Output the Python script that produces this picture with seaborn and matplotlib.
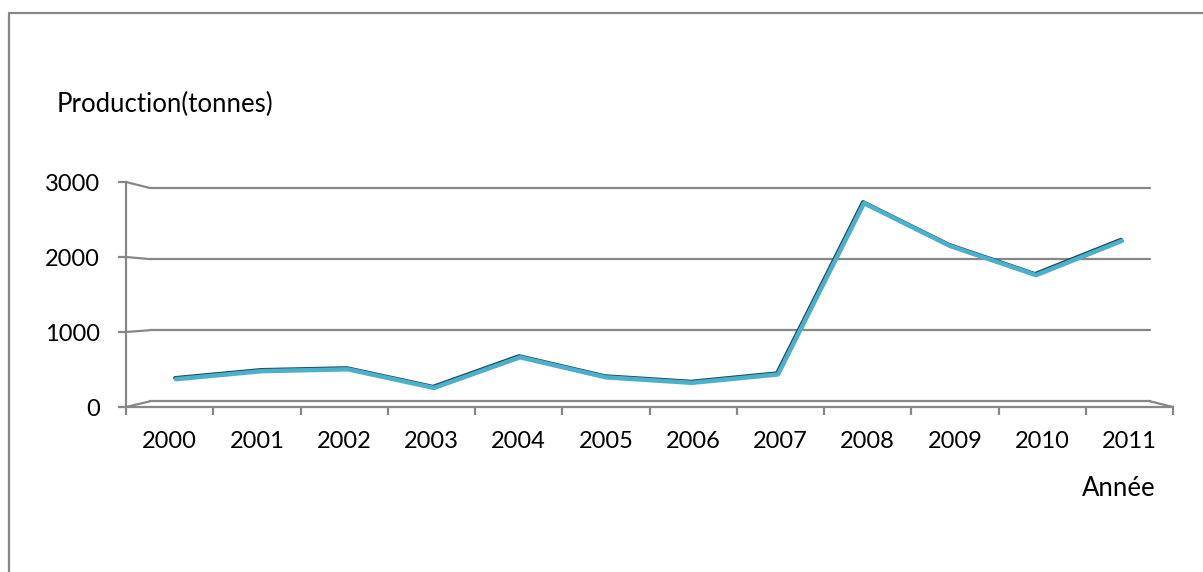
"""Production (tonnes) par année - recréation d'un graphique ligne 3D Excel"""
import matplotlib
matplotlib.use("Agg")
import numpy as np
import pandas as pd
import seaborn as sns
import matplotlib.pyplot as plt
import matplotlib.transforms as mtransforms
from matplotlib.lines import Line2D
from matplotlib.patches import ConnectionPatch

# données
years = ['2000', '2001', '2002', '2003', '2004', '2005',
         '2006', '2007', '2008', '2009', '2010', '2011']
production = [340, 450, 475, 220, 640, 365, 290, 405, 2750, 2165, 1765, 2235]
y_ticks = [0, 1000, 2000, 3000]

W, H = 1203, 572
GRAY = '#878787'
LIGHT = '#4bb0cb'
DARK = '#1f4a56'

sns.set_theme(style='white')
plt.rcParams['font.family'] = ['Lato', 'DejaVu Sans']
plt.rcParams['text.color'] = 'black'


def box(x0, y0, x1, y1):
    # pixels (origine en haut à gauche) -> fraction de figure
    return [x0 / W, 1 - y1 / H, (x1 - x0) / W, (y1 - y0) / H]


fig = plt.figure(figsize=(W / 100, H / 100), dpi=100)

# plan du fond avec les lignes de quadrillage
ax_back = fig.add_axes(box(150, 188, 1150, 401.3))
ax_back.set_ylim(0, 3000)
ax_back.set_xlim(0, 1)
for v in y_ticks:
    ax_back.axhline(v, color=GRAY, lw=1.6, clip_on=False)
ax_back.set_axis_off()

# courbe (au milieu de la profondeur), ombre foncée + ruban clair
ax_line = fig.add_axes(box(133, 185, 1165, 404))
ax_line.patch.set_alpha(0)
df = pd.DataFrame({'idx': np.arange(len(years)), 'prod': production})
sns.lineplot(data=df, x='idx', y='prod', ax=ax_line, color=DARK, lw=2.8)
ax_line.lines[-1].set_transform(
    mtransforms.offset_copy(ax_line.transData, fig=fig, x=-1, y=1.2, units='dots'))
sns.lineplot(data=df, x='idx', y='prod', ax=ax_line, color=LIGHT, lw=3.2)
ax_line.set_xlim(-0.5, len(years) - 0.5)
ax_line.set_ylim(0, 3000)
ax_line.set_axis_off()

# axes de face
ax = fig.add_axes(box(126, 182, 1173, 407))
ax.patch.set_alpha(0)
ax.set_xlim(-0.5, len(years) - 0.5)
ax.set_ylim(0, 3000)
for s in ['top', 'right']:
    ax.spines[s].set_visible(False)
for s in ['left', 'bottom']:
    ax.spines[s].set_color(GRAY)
    ax.spines[s].set_linewidth(1.6)
ax.set_yticks(y_ticks)
ax.set_yticklabels([str(v) for v in y_ticks])
ax.set_xticks(np.arange(-0.5, len(years)), labels=[])
ax.set_xticks(np.arange(len(years)), labels=years, minor=True)
ax.tick_params(axis='y', direction='out', length=6, width=1.6, color=GRAY,
               pad=13, labelsize=17, labelcolor='black', left=True)
ax.tick_params(axis='x', which='major', direction='out', length=6, width=1.6,
               color=GRAY, bottom=True)
ax.tick_params(axis='x', which='minor', length=0, pad=17, labelsize=17,
               labelcolor='black')
ax.grid(False)

# arêtes de perspective entre la face et le fond
for v in y_ticks:
    fig.add_artist(ConnectionPatch(xyA=(-0.5, v), coordsA=ax.transData,
                                   xyB=(0, v), coordsB=ax_back.transData,
                                   arrowstyle='-', color=GRAY, lw=1.6))
fig.add_artist(ConnectionPatch(xyA=(len(years) - 0.5, 0), coordsA=ax.transData,
                               xyB=(1, 0), coordsB=ax_back.transData,
                               arrowstyle='-', color=GRAY, lw=1.6))

# titres des axes
fig.text(57 / W, 1 - 104 / H, 'Production(tonnes)', fontsize=18.5,
         ha='left', va='center', color='black')
fig.text(1119 / W, 1 - 488 / H, 'Année', fontsize=18.5, ha='center',
         va='center', color='black')

# cadre de la zone de graphique (gauche et haut)
fig.add_artist(Line2D([9 / W, 9 / W, 1], [0, 1 - 13 / H, 1 - 13 / H],
                      transform=fig.transFigure, color=GRAY, lw=1.6))

fig.savefig('out.png', dpi=100)
print("Plot saved to out.png")
